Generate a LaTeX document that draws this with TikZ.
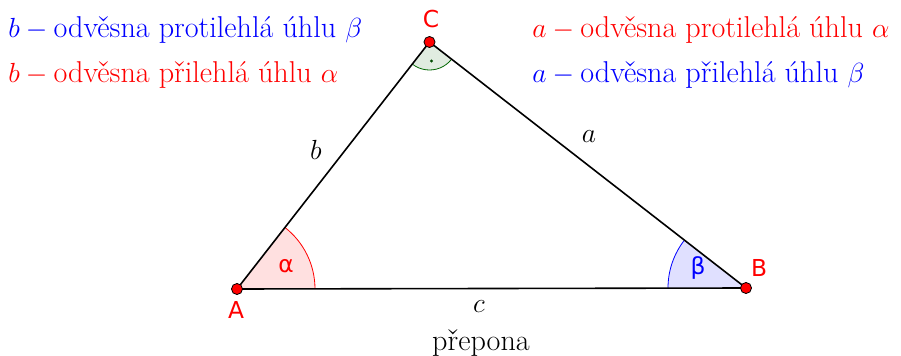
\documentclass[tikz,border=0pt]{standalone}
\usepackage{fontspec}
\setsansfont{DejaVu Sans}
\usetikzlibrary{calc}
\definecolor{ptred}{RGB}{255,0,0}
\begin{document}
\begin{tikzpicture}[x=0.75pt,y=0.75pt,
  pt/.style={circle,fill=ptred,draw=black,line width=0.6pt,inner sep=0pt,minimum size=8.3pt},
  side/.style={line width=1.2pt,black},
  lbl/.style={text=ptred,font=\sffamily\fontsize{17.5}{19}\selectfont},
  txt/.style={font=\fontsize{22.6}{26}\selectfont,anchor=west,inner sep=0pt},
  ml/.style={font=\fontsize{20.5}{24}\selectfont}]
\useasboundingbox (0,0) rectangle (901,355);
\coordinate (A) at (237,66);
\coordinate (B) at (746,67);
\coordinate (C) at (429.5,313);
% angle fills
\fill[red!12] (A) -- ++(0.11:78) arc[start angle=0.11,end angle=52.1,radius=78] -- cycle;
\draw[red,line width=0.6pt] (A) ++(0.11:78) arc[start angle=0.11,end angle=52.1,radius=78];
\fill[blue!12] (B) -- ++(142.2:78) arc[start angle=142.2,end angle=180.11,radius=78] -- cycle;
\draw[blue,line width=0.6pt] (B) ++(142.2:78) arc[start angle=142.2,end angle=180.11,radius=78];
\fill[green!40!black,opacity=0.12] (C) -- ++(232.1:28) arc[start angle=232.1,end angle=322.2,radius=28] -- cycle;
\draw[green!40!black,line width=0.6pt] (C) ++(232.1:28) arc[start angle=232.1,end angle=322.2,radius=28];
\fill[green!30!black] ($(C)+(2,-19)$) circle (1.6);
% sides
\draw[side] (A) -- (B) -- (C) -- cycle;
\node[pt] (nA) at (A) {};
\node[pt] (nB) at (B) {};
\node[pt] (nC) at (C) {};
% point labels
\node[lbl] (lA) at (236,45) {A};
\node[lbl] (lB) at (759,87) {B};
\node[lbl] (lC) at (431,336) {C};
\node[lbl] (al) at (286,89) {α};
\node[text=blue,font=\sffamily\fontsize{17.5}{19}\selectfont] (be) at (698,87) {β};
% side labels
\node[ml] (sb) at (316,205) {$b$};
\node[ml] (sa) at (589,218) {$a$};
\node[ml] (sc) at (479,48) {$c$};
\node[font=\fontsize{22.6}{26}\selectfont] (pr) at (481,12) {přepona};
% texts
\node[txt,text=blue] (t1) at (8,325) {$b-{}$odvěsna protilehlá úhlu $\beta$};
\node[txt,text=red] (t2) at (8,280) {$b-{}$odvěsna přilehlá úhlu $\alpha$};
\node[txt,text=red] (t3) at (532,325) {$a-{}$odvěsna protilehlá úhlu $\alpha$};
\node[txt,text=blue] (t4) at (532,280) {$a-{}$odvěsna přilehlá úhlu $\beta$};
\end{tikzpicture}
\end{document}
